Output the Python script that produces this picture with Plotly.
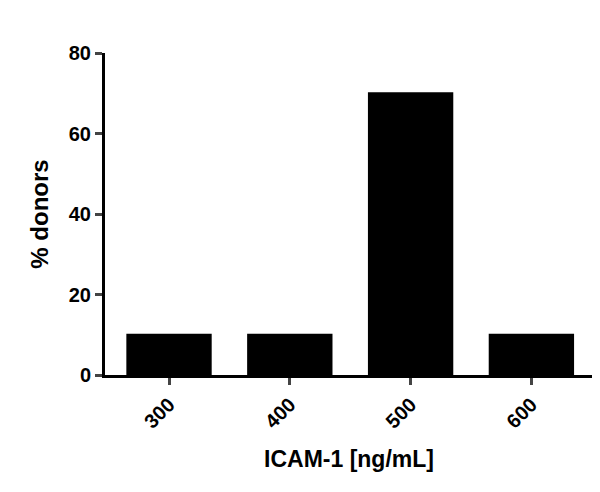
import plotly.graph_objects as go

categories = ["300", "400", "500", "600"]
values = [10, 10, 70, 10]

fig = go.Figure(go.Bar(x=categories, y=values, marker=dict(color="black", line=dict(color="black", width=2)), width=0.69))
font = dict(family="Liberation Sans, Arial", color="black")
fig.update_layout(
    width=600, height=492, margin=dict(l=97, r=15, t=45, b=125),
    plot_bgcolor="white", paper_bgcolor="white", showlegend=False, font=font,
)
tf = dict(size=20, family="Liberation Sans, Arial", color="black", weight="bold")
fig.update_xaxes(showline=True, linecolor="black", linewidth=3, ticks="outside", ticklen=7, tickwidth=3,
                 tickangle=-45, tickfont=tf, automargin=False,
                 title=dict(text="<b>ICAM-1 [ng/mL]</b>", font=dict(size=23), standoff=20), range=[-0.53, 3.51])
fig.update_yaxes(showline=True, linecolor="black", linewidth=3, ticks="outside", ticklen=7, tickwidth=3,
                 range=[0, 80], dtick=20, showgrid=False, zeroline=False, tickfont=tf, automargin=False,
                 title=dict(text="<b>% donors</b>", font=dict(size=24), standoff=14))
fig.write_html("out.html")
